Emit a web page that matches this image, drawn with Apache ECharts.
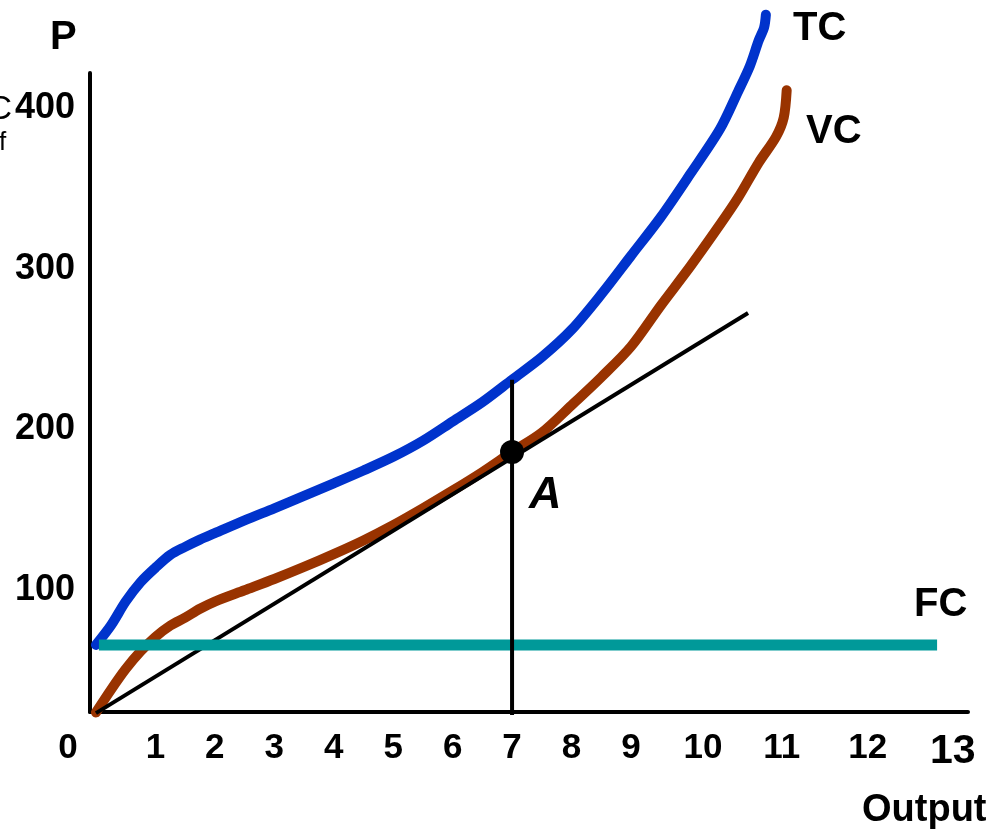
<!DOCTYPE html>
<html>
<head>
<meta charset="utf-8">
<script src="https://cdn.jsdelivr.net/npm/echarts@6/dist/echarts.min.js"></script>
<style>
  html, body { margin: 0; padding: 0; background: #fff; }
  #chart { width: 1000px; height: 837px; }
</style>
</head>
<body>
<div id="chart"></div>
<script>
// ---- data ----
const xTickLabels = [0, 1, 2, 3, 4, 5, 6, 7, 8, 9, 10, 11, 12, 13];
const yTickLabels = [100, 200, 300, 400];

// Total cost curve [output, cost]
const tcPoints = [
  [0, 66], [0.25, 78], [0.5, 93], [0.75, 105], [1.0, 114], [1.25, 122],
  [1.5, 127], [1.75, 131.5], [2.0, 135.5], [2.5, 143.5], [3.0, 151], [3.5, 158.7],
  [4.0, 166.5], [4.5, 174.5], [5.0, 183], [5.5, 193], [6.0, 205], [6.5, 217],
  [7.0, 231], [7.5, 245], [8.0, 262], [8.5, 284], [9.0, 308], [9.5, 332],
  [10.0, 359], [10.5, 387], [10.8, 410], [11.0, 426], [11.15, 442], [11.24, 450], [11.27, 458]
];
// Variable cost curve
const vcPoints = [
  [0, 24], [0.25, 38], [0.5, 51], [0.75, 62], [1.0, 71], [1.25, 78],
  [1.5, 83], [1.75, 88.5], [2.0, 93], [2.5, 100], [3.0, 107], [3.5, 114.5],
  [4.0, 122.5], [4.5, 131], [5.0, 140.5], [5.5, 151], [6.0, 162], [6.5, 173.5],
  [7.0, 186], [7.5, 198], [8.0, 215], [8.5, 232.5], [9.0, 251.5], [9.5, 277],
  [10.0, 301.5], [10.5, 327.5], [10.8, 344], [11.15, 366], [11.44, 382],
  [11.57, 394], [11.62, 411]
];
// Fixed cost
const fcPoints = [[0.05, 66], [14.15, 66]];
// Ray from the origin tangent to VC at A
const tangentPoints = [[0, 23.6], [10.97, 272.4]];
// Vertical line at output 7 from the axis up to TC
const verticalPoints = [[7, 22.4], [7, 231]];
// Point A
const pointA = [[7, 186]];

// ---- styles ----
const FONT = '"Liberation Sans", Arial, Helvetica, sans-serif';
const xLabelStyle = {
  0: { padding: [0, 56, 0, 0] },
  10: { padding: [0, 0, 0, 25] },
  11: { padding: [0, 0, 0, 64] },
  12: { padding: [0, 0, 0, 117] },
  13: { padding: [0, 0, 0, 168], fontSize: 41 }
};
const rich = { n: { fontFamily: FONT, fontWeight: 'bold', fontSize: 35, color: '#000' } };
Object.keys(xLabelStyle).forEach(k => {
  rich['t' + k] = Object.assign({ fontFamily: FONT, fontWeight: 'bold', fontSize: 35, color: '#000' }, xLabelStyle[k]);
});

const chart = echarts.init(document.getElementById('chart'), null, { renderer: 'canvas' });

const option = {
  animation: false,
  backgroundColor: '#fff',
  grid: { left: 90, right: 32, top: 73, bottom: 125, containLabel: false },
  xAxis: {
    type: 'value',
    min: -0.1,
    max: 14.67,
    minInterval: 1,
    maxInterval: 1,
    axisLine: { show: true, onZero: false, lineStyle: { color: '#000', width: 4 } },
    axisTick: { show: false },
    splitLine: { show: false },
    axisLabel: {
      margin: 19,
      fontFamily: FONT, fontWeight: 'bold', fontSize: 35, color: '#000',
      formatter: function (v) {
        if (Math.abs(v - Math.round(v)) > 1e-6) return '';
        const r = Math.round(v);
        if (xTickLabels.indexOf(r) < 0) return '';
        return xLabelStyle[r] ? '{t' + r + '|' + r + '}' : '{n|' + r + '}';
      },
      rich: rich
    }
  },
  yAxis: {
    type: 'value',
    min: 24.3,
    max: 421.7,
    minInterval: 100,
    maxInterval: 100,
    axisLine: { show: true, onZero: false, lineStyle: { color: '#000', width: 4 } },
    axisTick: { show: false },
    splitLine: { show: false },
    axisLabel: {
      margin: 15,
      fontFamily: FONT, fontWeight: 'bold', fontSize: 36, color: '#000',
      formatter: function (v) {
        const r = Math.round(v);
        return (Math.abs(v - r) < 1e-6 && yTickLabels.indexOf(r) >= 0) ? String(r) : '';
      }
    }
  },
  series: [
    {
      name: 'VC', type: 'line', data: vcPoints, symbol: 'none', smooth: 0.3, clip: false, z: 3,
      lineStyle: { color: '#993300', width: 10, cap: 'round', join: 'round' }
    },
    {
      name: 'TC', type: 'line', data: tcPoints, symbol: 'none', smooth: 0.3, clip: false, z: 3,
      lineStyle: { color: '#0033CC', width: 10, cap: 'round', join: 'round' }
    },
    {
      name: 'tangent', type: 'line', data: tangentPoints, symbol: 'none', clip: false, z: 4,
      lineStyle: { color: '#000', width: 4, cap: 'butt' }
    },
    {
      name: 'FC', type: 'line', data: fcPoints, symbol: 'none', clip: false, z: 5,
      lineStyle: { color: '#009999', width: 11, cap: 'butt' }
    },
    {
      name: 'output7', type: 'line', data: verticalPoints, symbol: 'none', clip: false, z: 6,
      lineStyle: { color: '#000', width: 4, cap: 'butt' }
    },
    {
      name: 'A', type: 'scatter', data: pointA, symbol: 'circle', symbolSize: 24, clip: false, z: 7,
      itemStyle: { color: '#000', opacity: 1 },
      label: {
        show: true, formatter: 'A', position: 'right', distance: 5, offset: [0, 44],
        fontFamily: FONT, fontWeight: 'bold', fontStyle: 'italic', fontSize: 45, color: '#000', opacity: 1
      },
      emphasis: { disabled: true }
    }
  ],
  graphic: [
    { type: 'text', x: 50, y: 38, style: { text: 'P', font: 'bold 40px ' + FONT, fill: '#000', align: 'left', verticalAlign: 'middle' } },
    { type: 'text', x: 793, y: 29, style: { text: 'TC', font: 'bold 40px ' + FONT, fill: '#000', align: 'left', verticalAlign: 'middle' } },
    { type: 'text', x: 806, y: 132, style: { text: 'VC', font: 'bold 40px ' + FONT, fill: '#000', align: 'left', verticalAlign: 'middle' } },
    { type: 'text', x: 914, y: 605, style: { text: 'FC', font: 'bold 40px ' + FONT, fill: '#000', align: 'left', verticalAlign: 'middle' } },
    { type: 'text', x: 862, y: 811, style: { text: 'Output', font: 'bold 38px ' + FONT, fill: '#000', align: 'left', verticalAlign: 'middle' } },
    { type: 'text', x: 12, y: 110, style: { text: 'C', font: '34px ' + FONT, fill: '#000', align: 'right', verticalAlign: 'middle' } },
    { type: 'text', x: -1, y: 143, style: { text: 'f', font: '26px ' + FONT, fill: '#000', align: 'left', verticalAlign: 'middle' } }
  ]
};

chart.setOption(option);
</script>
</body>
</html>
